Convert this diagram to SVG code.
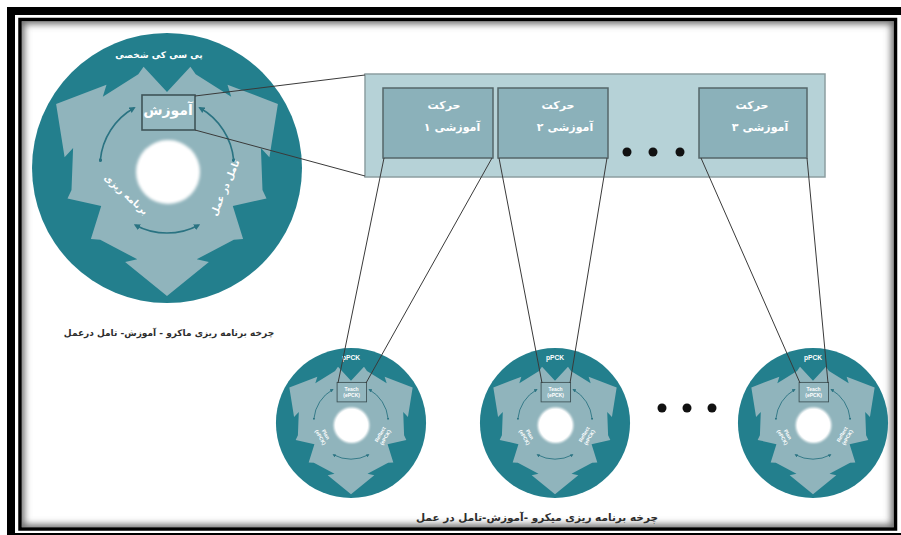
<svg xmlns="http://www.w3.org/2000/svg" xmlns:xlink="http://www.w3.org/1999/xlink" width="901" height="535" viewBox="0 0 901 535">
<style>
.fa{font-family:"DejaVu Sans",sans-serif;font-weight:bold;}
.wt{fill:#ffffff;}
.cap{fill:#2e2e2e;}
.en{font-family:"Liberation Sans",Arial,sans-serif;font-weight:bold;fill:#ffffff;}
.link{stroke:#3a3a3a;stroke-width:1;fill:none;}
.arc{stroke:#2a7382;stroke-width:1.6;fill:none;}
.mbox{fill:#8bb1ba;stroke:#55676a;stroke-width:1.5;}
.dot{fill:#111111;}
</style>
<defs>
<filter id="soft" x="-20%" y="-20%" width="140%" height="140%"><feGaussianBlur stdDeviation="1.5"/></filter>
<filter id="shadow" x="-5%" y="-5%" width="110%" height="110%"><feGaussianBlur stdDeviation="3.5"/></filter>
<clipPath id="innerClip"><rect x="21.75" y="21.25" width="872" height="506"/></clipPath>
<marker id="ah" viewBox="0 0 10 10" refX="7" refY="5" markerWidth="4" markerHeight="4" orient="auto-start-reverse"><path d="M0,0 L10,5 L0,10 z" fill="#2a7382"/></marker>
<marker id="dt" viewBox="0 0 10 10" refX="5" refY="5" markerWidth="2.2" markerHeight="2.2"><circle cx="5" cy="5" r="5" fill="#2a7382"/></marker>
<g id="cycle">
<circle cx="0" cy="0" r="135" fill="#237f8d"/>
<polygon fill="#90b4bc" points="0,128 -41.9,94.1 -29.7,91.3 -66.8,71.7 -76.1,70.9 -65.8,38 -99.5,30.4 -95.5,22 -93.9,-20 -102.4,-10.8 -110.9,-64 -60.5,-83.3 -64.2,-71.3 -28.7,-93.7 -23.4,-101.3 0,-76 23.4,-101.3 28.7,-93.7 64.2,-71.3 60.5,-83.3 110.9,-64 102.4,-10.8 93.9,-20 95.5,22 99.5,30.4 65.8,38 76.1,70.9 66.8,71.7 29.7,91.3 41.9,94.1"/>
<circle cx="1" cy="4" r="32" fill="#ffffff" filter="url(#soft)"/>
<circle cx="1" cy="4" r="29" fill="#ffffff"/>
<path class="arc" d="M-66.7,-7.8 A67,67 0 0 1 -33,-60" marker-start="url(#dt)" marker-end="url(#ah)"/>
<path class="arc" d="M66.7,-7.8 A67,67 0 0 0 33,-60" marker-start="url(#dt)" marker-end="url(#ah)"/>
<path class="arc" d="M31.5,57.2 A67,67 0 0 1 -31.5,57.2" marker-start="url(#ah)" marker-end="url(#ah)"/>
<rect x="-25" y="-73" width="53" height="35" fill="#93b7bf" stroke="#3f5458" stroke-width="1.6"/>
</g>
</defs>

<g id="frame">
<rect x="0" y="0" width="901" height="535" fill="#ffffff"/>
<rect x="11" y="11" width="905" height="526" fill="none" stroke="#000000" stroke-width="8"/>
<g clip-path="url(#innerClip)"><rect x="20" y="19.5" width="875.5" height="509.5" fill="none" stroke="#6a6a6a" stroke-width="9" filter="url(#shadow)"/></g>
<rect x="20" y="19.5" width="875.5" height="509.5" fill="none" stroke="#000000" stroke-width="3.5"/>
</g>

<g id="macro-cycle">
<use xlink:href="#cycle" transform="translate(167,168)"/>
<text class="fa wt" x="168" y="115" font-size="14" text-anchor="middle" direction="rtl">آموزش</text>
<text class="fa wt" x="159" y="58" font-size="9" text-anchor="middle" direction="rtl">پی سی کی شخصی</text>
<text class="fa wt" font-size="9.5" text-anchor="middle" direction="rtl" transform="translate(124,197) rotate(42)">برنامه ریزی</text>
<text class="fa wt" font-size="9.5" text-anchor="middle" direction="rtl" transform="translate(228,189) rotate(-67)">تامل در عمل</text>
<text class="fa cap" x="169" y="336" font-size="9" text-anchor="middle" direction="rtl">چرخه برنامه ریزی ماکرو - آموزش- تامل درعمل</text>
</g>

<g id="panel">
<rect x="365" y="74" width="460" height="103" fill="#b6d2d7" stroke="#8c9ea1" stroke-width="1.5"/>
</g>

<g id="move1">
<rect class="mbox" x="383" y="88" width="110" height="70"/>
<text class="fa wt" x="444" y="109" font-size="11" text-anchor="middle" direction="rtl">حرکت</text>
<text class="fa wt" x="452" y="131" font-size="11" text-anchor="middle" direction="rtl">آموزشی ۱</text>
</g>
<g id="move2">
<rect class="mbox" x="498" y="88" width="110" height="70"/>
<text class="fa wt" x="558" y="109" font-size="11" text-anchor="middle" direction="rtl">حرکت</text>
<text class="fa wt" x="565" y="131" font-size="11" text-anchor="middle" direction="rtl">آموزشی ۲</text>
</g>
<g id="move3">
<rect class="mbox" x="699" y="88" width="108" height="70"/>
<text class="fa wt" x="752" y="109" font-size="11" text-anchor="middle" direction="rtl">حرکت</text>
<text class="fa wt" x="760" y="131" font-size="11" text-anchor="middle" direction="rtl">آموزشی ۳</text>
</g>
<g id="dots-top">
<circle class="dot" cx="627" cy="152" r="4.5"/>
<circle class="dot" cx="653" cy="152" r="4.5"/>
<circle class="dot" cx="680" cy="152" r="4.5"/>
</g>

<g id="micro1" transform="translate(351,423) scale(0.556)">
<use xlink:href="#cycle"/>
<text class="en" x="0" y="-114" font-size="12" text-anchor="middle">pPCK</text>
<text class="en" x="1" y="-58" font-size="9" text-anchor="middle">Teach</text>
<text class="en" x="1" y="-46" font-size="9" text-anchor="middle">(ePCK)</text>
<text class="en" font-size="9" text-anchor="middle" transform="translate(-48,22) rotate(60)"><tspan x="0" y="0">Plan</tspan><tspan x="0" y="11">(ePCK)</tspan></text>
<text class="en" font-size="9" text-anchor="middle" transform="translate(55,22) rotate(-60)"><tspan x="0" y="0">Reflect</tspan><tspan x="0" y="11">(ePCK)</tspan></text>
</g>
<g id="micro2" transform="translate(555,423) scale(0.556)">
<use xlink:href="#cycle"/>
<text class="en" x="0" y="-114" font-size="12" text-anchor="middle">pPCK</text>
<text class="en" x="1" y="-58" font-size="9" text-anchor="middle">Teach</text>
<text class="en" x="1" y="-46" font-size="9" text-anchor="middle">(ePCK)</text>
<text class="en" font-size="9" text-anchor="middle" transform="translate(-48,22) rotate(60)"><tspan x="0" y="0">Plan</tspan><tspan x="0" y="11">(ePCK)</tspan></text>
<text class="en" font-size="9" text-anchor="middle" transform="translate(55,22) rotate(-60)"><tspan x="0" y="0">Reflect</tspan><tspan x="0" y="11">(ePCK)</tspan></text>
</g>
<g id="micro3" transform="translate(813,423) scale(0.556)">
<use xlink:href="#cycle"/>
<text class="en" x="0" y="-114" font-size="12" text-anchor="middle">pPCK</text>
<text class="en" x="1" y="-58" font-size="9" text-anchor="middle">Teach</text>
<text class="en" x="1" y="-46" font-size="9" text-anchor="middle">(ePCK)</text>
<text class="en" font-size="9" text-anchor="middle" transform="translate(-48,22) rotate(60)"><tspan x="0" y="0">Plan</tspan><tspan x="0" y="11">(ePCK)</tspan></text>
<text class="en" font-size="9" text-anchor="middle" transform="translate(55,22) rotate(-60)"><tspan x="0" y="0">Reflect</tspan><tspan x="0" y="11">(ePCK)</tspan></text>
</g>
<g id="dots-bottom">
<circle class="dot" cx="662" cy="408" r="4.5"/>
<circle class="dot" cx="687" cy="408" r="4.5"/>
<circle class="dot" cx="712" cy="408" r="4.5"/>
</g>

<g id="connectors">
<line class="link" x1="195" y1="96" x2="365" y2="75"/>
<line class="link" x1="195" y1="130" x2="365" y2="176"/>
<line class="link" x1="384" y1="158" x2="338" y2="383"/>
<line class="link" x1="492" y1="158" x2="366" y2="383"/>
<line class="link" x1="499" y1="158" x2="542" y2="383"/>
<line class="link" x1="607" y1="158" x2="570" y2="383"/>
<line class="link" x1="701" y1="158" x2="800" y2="383"/>
<line class="link" x1="807" y1="158" x2="828" y2="383"/>
</g>

<g id="micro-caption">
<text class="fa cap" x="537" y="521" font-size="10.5" text-anchor="middle" direction="rtl">چرخه برنامه ریزی میکرو -آموزش-تامل در عمل</text>
</g>
</svg>
